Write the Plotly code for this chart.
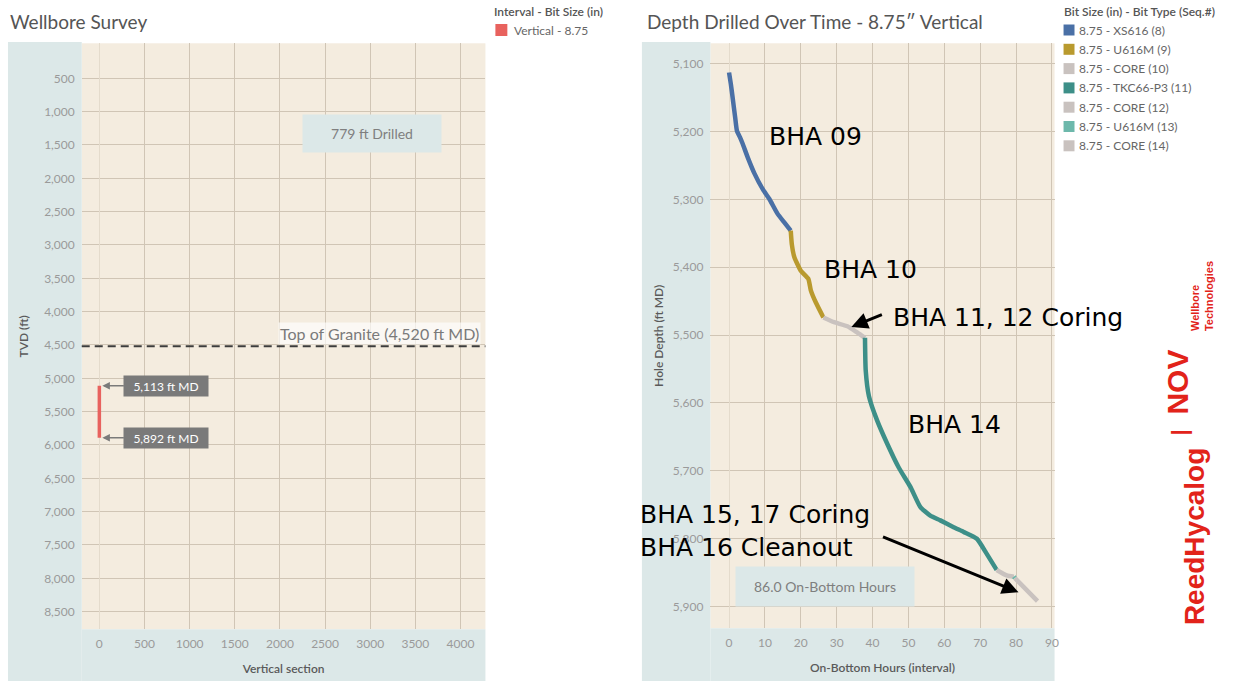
import plotly.graph_objects as go

W, H = 1234, 681

# ---------------- data ----------------
survey_label = "Vertical - 8.75"
survey_vs = [0, 0]
survey_tvd = [5113, 5892]
granite_md = 4520
drilled_text = "779 ft Drilled"
onbottom_text = "86.0 On-Bottom Hours"

tvd_ticks = [500, 1000, 1500, 2000, 2500, 3000, 3500, 4000, 4500, 5000, 5500,
             6000, 6500, 7000, 7500, 8000, 8500]
vs_ticks = [0, 500, 1000, 1500, 2000, 2500, 3000, 3500, 4000]
md_ticks = [5100, 5200, 5300, 5400, 5500, 5600, 5700, 5800, 5900]
hour_ticks = [0, 10, 20, 30, 40, 50, 60, 70, 80, 90]

bit_labels = ["8.75 - XS616 (8)", "8.75 - U616M (9)", "8.75 - CORE (10)",
              "8.75 - TKC66-P3 (11)", "8.75 - CORE (12)", "8.75 - U616M (13)",
              "8.75 - CORE (14)"]
bit_colors = ["#4a70a6", "#b99a2e", "#c9c2bf", "#3d8f88", "#c9c2bf", "#6db8ab", "#c9c2bf"]

xs616_hours = [0.0, 0.5, 1.0, 1.7, 2.2, 3.0, 3.8, 5.2, 7.1, 9.4, 11.2, 13.5, 15.4, 17.2]
xs616_depth = [5113, 5130, 5150, 5179, 5199, 5208, 5218, 5238, 5262, 5285, 5299, 5321, 5334, 5346]
u616m9_hours = [17.2, 17.5, 18.2, 20.0, 22.1, 22.8, 24.2, 26.3]
u616m9_depth = [5346, 5366, 5385, 5405, 5417, 5434, 5452, 5474]
core10_hours = [26.3, 29.3, 33.0, 35.7, 37.9]
core10_depth = [5474, 5481, 5487, 5496, 5504]
tkc66_hours = [37.9, 38.1, 39.0, 41.3, 44.1, 47.3, 50.6, 53.3, 56.1, 58.9, 62.6, 65.4,
               69.1, 71.8, 74.6]
tkc66_depth = [5504, 5552, 5590, 5626, 5660, 5695, 5724, 5753, 5766, 5773, 5783, 5790,
               5800, 5822, 5846]
core12_hours = [74.6, 77.4, 79.4]
core12_depth = [5846, 5854, 5856]
u616m13_hours = [79.4, 79.7]
u616m13_depth = [5856, 5858]
core14_hours = [79.7, 82.1, 86.0]
core14_depth = [5858, 5871, 5892]

bit_hours = [xs616_hours, u616m9_hours, core10_hours, tkc66_hours, core12_hours,
             u616m13_hours, core14_hours]
bit_depths = [xs616_depth, u616m9_depth, core10_depth, tkc66_depth, core12_depth,
              u616m13_depth, core14_depth]

bha_labels = ["BHA 09", "BHA 10", "BHA 11, 12 Coring", "BHA 14"]
bha_label_hours = [10.6, 26.0, 45.2, 49.2]
bha_label_depth = [5208, 5404, 5474, 5631]
bha_late_label = "BHA 15, 17 Coring<br>BHA 16 Cleanout"

# ---------------- style ----------------
PANEL = "#dce8e8"
PLOTBG = "#f4ecdf"
GRID = "#d0c5b5"
TICK = "#9a9a9a"
TITLE = "#5a5a5a"
FONT = "Lato"

def fx(px):
    return px / W

def fy(py):
    return 1 - py / H

fig = go.Figure()

fig.add_trace(go.Scatter(x=survey_vs, y=survey_tvd, mode="lines", name=survey_label,
                         line=dict(color="#e8625e", width=3.5),
                         xaxis="x", yaxis="y", showlegend=False))

for lbl, col, hx, dy in zip(bit_labels, bit_colors, bit_hours, bit_depths):
    fig.add_trace(go.Scatter(x=hx, y=dy, mode="lines", name=lbl,
                             line=dict(color=col, width=4.5, shape="spline", smoothing=0.5),
                             xaxis="x2", yaxis="y2", showlegend=False))

shapes = []
# blue panels (L-shaped, around plot areas)
shapes += [
    dict(type="rect", xref="paper", yref="paper", x0=fx(8), x1=fx(82), y0=fy(681), y1=fy(42),
         fillcolor=PANEL, line_width=0, layer="below"),
    dict(type="rect", xref="paper", yref="paper", x0=fx(82), x1=fx(487), y0=fy(681), y1=fy(629.3),
         fillcolor=PANEL, line_width=0, layer="below"),
    dict(type="rect", xref="paper", yref="paper", x0=fx(644), x1=fx(712.7), y0=fy(681), y1=fy(42),
         fillcolor=PANEL, line_width=0, layer="below"),
    dict(type="rect", xref="paper", yref="paper", x0=fx(712.7), x1=fx(1058), y0=fy(681), y1=fy(628.3),
         fillcolor=PANEL, line_width=0, layer="below"),
]
# granite top dashed line
shapes.append(dict(type="line", xref="x domain", yref="y", x0=0, x1=1, y0=granite_md, y1=granite_md,
                   line=dict(color="#3c3c3c", width=2, dash="8px,5px"), layer="above"))

annotations = []
# titles
annotations.append(dict(text="Wellbore Survey", xref="paper", yref="paper", x=fx(8), y=fy(21),
                        xanchor="left", yanchor="middle", showarrow=False,
                        font=dict(family=FONT, size=19, color="#555555")))
annotations.append(dict(text="Depth Drilled Over Time - 8.75\u2033 Vertical", xref="paper", yref="paper",
                        x=fx(647), y=fy(21), xanchor="left", yanchor="middle", showarrow=False,
                        font=dict(family=FONT, size=19, color="#555555")))

# manual legends
annotations.append(dict(text="Interval - Bit Size (in)", xref="paper", yref="paper", x=fx(494), y=fy(11),
                        xanchor="left", yanchor="middle", showarrow=False,
                        font=dict(family=FONT, size=12, color="#555555", weight=600)))
shapes.append(dict(type="rect", xref="paper", yref="paper", x0=fx(497), x1=fx(509), y0=fy(36), y1=fy(24),
                   fillcolor="#e8625e", line_width=0))
annotations.append(dict(text=survey_label, xref="paper", yref="paper", x=fx(514), y=fy(30),
                        xanchor="left", yanchor="middle", showarrow=False,
                        font=dict(family=FONT, size=12, color="#666666")))

annotations.append(dict(text="Bit Size (in) - Bit Type (Seq.#)", xref="paper", yref="paper",
                        x=fx(1065), y=fy(11), xanchor="left", yanchor="middle", showarrow=False,
                        font=dict(family=FONT, size=12, color="#555555", weight=600)))
for i, (lbl, col) in enumerate(zip(bit_labels, bit_colors)):
    cy = 30 + i * 19.3
    shapes.append(dict(type="rect", xref="paper", yref="paper", x0=fx(1067), x1=fx(1078),
                       y0=fy(cy + 5.5), y1=fy(cy - 5.5), fillcolor=col, line_width=0))
    annotations.append(dict(text=lbl, xref="paper", yref="paper", x=fx(1081), y=fy(cy),
                            xanchor="left", yanchor="middle", showarrow=False,
                            font=dict(family=FONT, size=12, color="#666666")))

# left chart annotations
annotations.append(dict(text=drilled_text, xref="x", yref="y", x=3024, y=1327, showarrow=False,
                        bgcolor=PANEL, width=136, height=35,
                        font=dict(family=FONT, size=14, color="#7f7f7f")))
annotations.append(dict(text="Top of Granite (4,520 ft MD)", xref="x", yref="y", x=4230, y=4335,
                        xanchor="right", yanchor="middle", showarrow=False,
                        bgcolor="rgba(255,255,255,0.65)",
                        font=dict(family=FONT, size=16, color="#7a7a7a")))
for depth in survey_tvd:
    annotations.append(dict(text=f"{depth:,} ft MD", xref="x", yref="y", x=survey_vs[0], y=depth,
                            ax=67, ay=0, showarrow=True, arrowhead=2, arrowsize=1, arrowwidth=1.5,
                            arrowcolor="#7a7a7a", standoff=3, bgcolor="#7a7a7a",
                            width=82, height=18, borderpad=1,
                            font=dict(family=FONT, size=12, color="#ffffff")))

# right chart annotations
for txt, hx, dy in zip(bha_labels, bha_label_hours, bha_label_depth):
    annotations.append(dict(text=txt, xref="x2", yref="y2", x=hx, y=dy, xanchor="left",
                            yanchor="middle", align="left", showarrow=False,
                            font=dict(family="DejaVu Sans", size=25, color="#000000")))
annotations.append(dict(text=bha_late_label, xref="paper", yref="paper", x=fx(640), y=fy(531),
                        xanchor="left", yanchor="middle", align="left", showarrow=False,
                        font=dict(family="DejaVu Sans", size=25, color="#000000")))
annotations.append(dict(text="", xref="x2", yref="y2", x=34.1, y=5488, ax=32, ay=-13,
                        showarrow=True, arrowhead=2, arrowsize=1.1, arrowwidth=3,
                        arrowcolor="#000000"))
annotations.append(dict(text="", xref="x2", yref="y2", x=80.7, y=5879, ax=-137, ay=-56,
                        showarrow=True, arrowhead=2, arrowsize=1.1, arrowwidth=3,
                        arrowcolor="#000000"))
annotations.append(dict(text=onbottom_text, xref="x2", yref="y2", x=26.7, y=5871, showarrow=False,
                        bgcolor=PANEL, width=176, height=37,
                        font=dict(family=FONT, size=14, color="#7f7f7f")))

# logo
annotations.append(dict(text="<b>ReedHycalog</b>", xref="paper", yref="paper", x=fx(1198), y=fy(537),
                        textangle=-90, showarrow=False, xanchor="center", yanchor="middle",
                        font=dict(family="Liberation Sans", size=28, color="#e2231a")))
annotations.append(dict(text="<b>|</b>", xref="paper", yref="paper", x=fx(1198), y=fy(433),
                        textangle=-90, showarrow=False,
                        font=dict(family="Liberation Sans", size=22, color="#e2231a")))
annotations.append(dict(text="<b>NOV</b>", xref="paper", yref="paper", x=fx(1199), y=fy(382),
                        textangle=-90, showarrow=False,
                        font=dict(family="Liberation Sans", size=30, color="#e2231a")))
annotations.append(dict(text="<b>Wellbore<br>Technologies</b>", xref="paper", yref="paper",
                        x=fx(1221), y=fy(296), textangle=-90, showarrow=False, align="left",
                        font=dict(family="Liberation Sans", size=11, color="#e2231a")))

axis_common = dict(showgrid=True, gridcolor=GRID, gridwidth=1, ticks="", showline=False,
                   tickfont=dict(family=FONT, size=12, color=TICK), fixedrange=True)

fig.update_layout(
    width=W, height=H, margin=dict(l=0, r=0, t=0, b=0),
    paper_bgcolor="#ffffff", plot_bgcolor=PLOTBG, showlegend=False,
    xaxis=dict(domain=[fx(82), fx(487)], range=[-195, 4276], anchor="y",
               tickvals=vs_ticks, tickformat="d", zeroline=True, zerolinecolor="#e4dbcc",
               zerolinewidth=1, ticklabelstandoff=6,
               title=dict(text="Vertical section", standoff=14,
                          font=dict(family=FONT, size=12, color=TITLE, weight=600)),
               **axis_common),
    yaxis=dict(domain=[fy(629.3), fy(43.3)], range=[8765, -25], anchor="x",
               tickvals=tvd_ticks, tickformat=",", zeroline=False, ticklabelstandoff=6,
               title=dict(text="TVD (ft)", standoff=12,
                          font=dict(family=FONT, size=12, color=TITLE, weight=600)),
               **axis_common),
    xaxis2=dict(domain=[fx(712.7), fx(1058)], range=[-5.2, 90.75], anchor="y2",
                tickvals=hour_ticks, tickformat="d", zeroline=True, zerolinecolor="#e4dbcc",
                zerolinewidth=1, ticklabelstandoff=6,
                title=dict(text="On-Bottom Hours (interval)", standoff=14,
                           font=dict(family=FONT, size=12, color=TITLE, weight=600)),
                **axis_common),
    yaxis2=dict(domain=[fy(628.3), fy(43.3)], range=[5932, 5070], anchor="x2",
                tickvals=md_ticks, tickformat=",", zeroline=False, ticklabelstandoff=6,
                title=dict(text="Hole Depth (ft MD)", standoff=6,
                           font=dict(family=FONT, size=12, color=TITLE, weight=600)),
                **axis_common),
    shapes=shapes, annotations=annotations,
)

fig.write_html("out.html", config={"displayModeBar": False},
               post_script="document.body.style.margin='0';document.body.style.overflow='hidden';")
